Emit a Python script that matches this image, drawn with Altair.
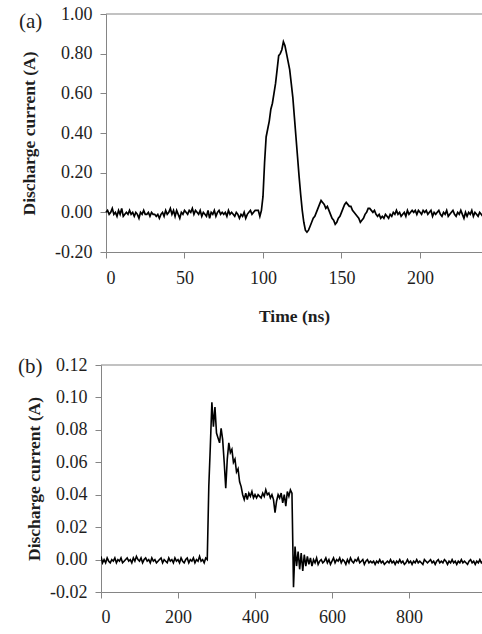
import altair as alt
import pandas as pd

# ---------------- data ----------------
# (a) discharge current, sampled every 1 ns from 0 ns
CURRENT_A = [
    0.00, 0.01, -0.01, 0.00, 0.02, -0.01, 0.00, -0.02, 0.01, -0.01,
    0.02, -0.02, -0.01, 0.00, -0.01, 0.01, -0.01, 0.00, -0.02, 0.00,
    -0.01, -0.03, 0.00, -0.01, 0.01, -0.01, -0.01, 0.00, -0.02, 0.00,
    -0.01, -0.01, -0.02, -0.01, -0.03, -0.01, 0.00, -0.02, 0.01, -0.01,
    0.00, 0.02, -0.01, 0.01, -0.02, 0.01, -0.01, -0.03, 0.00, -0.01,
    0.01, 0.00, -0.01, 0.01, 0.00, 0.02, -0.01, 0.01, 0.00, -0.01,
    0.01, -0.02, 0.00, -0.01, -0.02, 0.01, -0.03, 0.00, -0.01, 0.01,
    -0.02, 0.00, 0.01, -0.01, 0.00, -0.01, 0.00, -0.02, 0.01, -0.01,
    0.00, -0.01, -0.02, 0.00, -0.01, -0.03, -0.01, -0.02, 0.00, -0.03,
    -0.01, 0.00, 0.01, -0.01, 0.00, 0.01, 0.01, 0.01, -0.02, 0.01,
    0.08, 0.25, 0.38, 0.42, 0.46, 0.52, 0.55, 0.60, 0.65, 0.72,
    0.79, 0.80, 0.82, 0.86, 0.84, 0.80, 0.76, 0.72, 0.65, 0.58,
    0.48, 0.38, 0.28, 0.18, 0.09, 0.01, -0.05, -0.09, -0.10, -0.09,
    -0.07, -0.05, -0.03, -0.02, 0.00, 0.02, 0.04, 0.06, 0.05, 0.04,
    0.02, 0.03, 0.01, -0.01, -0.03, -0.04, -0.06, -0.05, -0.03, -0.02,
    0.00, 0.02, 0.04, 0.05, 0.04, 0.03, 0.03, 0.01, 0.00, -0.01,
    -0.02, -0.03, -0.05, -0.04, -0.03, -0.01, 0.00, 0.02, 0.02, 0.01,
    0.00, 0.01, -0.01, -0.02, -0.01, -0.03, -0.02, -0.03, -0.01, -0.02,
    -0.03, -0.01, -0.02, 0.00, -0.01, 0.01, -0.01, 0.00, -0.02, -0.01,
    0.00, -0.02, 0.01, -0.01, 0.00, 0.01, 0.00, 0.01, -0.01, 0.01,
    0.00, -0.01, 0.01, 0.00, 0.01, -0.01, 0.00, 0.01, -0.02, 0.00,
    -0.01, 0.00, 0.01, -0.01, -0.02, 0.00, -0.01, 0.01, -0.02, -0.01,
    0.00, 0.01, -0.01, -0.02, 0.00, -0.01, 0.01, -0.01, -0.03, 0.00,
    -0.02, 0.00, -0.01, 0.01, -0.02, 0.00, -0.01, -0.02, 0.00, -0.01,
    -0.02, 0.00, -0.01, -0.03, -0.01, 0.00, -0.02, -0.01, 0.00, -0.02,
    -0.01,
]
STEP_A_NS = 1

# (b) discharge current, sampled every 4 ns from 0 ns
CURRENT_B = [
    0.002, -0.002, 0.000, -0.002, 0.001, -0.001, -0.002, 0.000, -0.001, 0.001,
    -0.002, 0.000, -0.001, 0.001, -0.002, -0.001, 0.000, 0.001, -0.001, 0.000,
    -0.002, 0.001, -0.001, 0.002, 0.000, -0.001, 0.001, -0.002, 0.000, 0.001,
    -0.001, 0.000, -0.002, 0.001, -0.001, 0.000, -0.002, -0.001, 0.000, 0.001,
    -0.002, 0.000, -0.001, -0.002, 0.001, -0.001, 0.000, -0.002, 0.001, -0.001,
    0.000, -0.002, 0.001, -0.001, -0.002, 0.000, 0.001, -0.002, 0.000, -0.001,
    0.001, -0.002, 0.000, -0.001, 0.002, -0.001, 0.000, -0.002, 0.001,
    0.000, 0.045, 0.070, 0.097, 0.082, 0.094, 0.078, 0.075, 0.072, 0.081,
    0.074, 0.060, 0.044, 0.062, 0.072, 0.066, 0.068, 0.060, 0.062, 0.054,
    0.056, 0.048, 0.045, 0.040, 0.037, 0.041, 0.037, 0.041, 0.039, 0.042,
    0.038, 0.040, 0.038, 0.040, 0.039, 0.038, 0.041, 0.039, 0.043, 0.040,
    0.041, 0.038, 0.040, 0.037, 0.029, 0.036, 0.040, 0.038, 0.041, 0.035,
    0.040, 0.033, 0.042, 0.039, 0.043, 0.041,
    -0.017, 0.008, -0.004, 0.005, -0.006, 0.004, -0.007, 0.003, -0.004, 0.002,
    -0.003,
    0.001, -0.004, 0.000, -0.002, 0.001, -0.003, -0.001, 0.000, -0.002, -0.001,
    0.001, -0.002, 0.000, -0.003, -0.001, 0.001, -0.002, 0.000, -0.001, 0.001,
    -0.002, 0.000, -0.001, -0.003, 0.000, -0.002, 0.001, -0.001, -0.002, 0.000,
    -0.001, 0.001, -0.002, -0.001, 0.000, -0.003, -0.001, 0.000, -0.002, -0.001,
    -0.002, -0.001, -0.003, -0.001, -0.002, 0.000, -0.002, -0.001, -0.003, -0.002,
    -0.001, -0.002, 0.000, -0.002, -0.001, -0.003, -0.001, -0.002, 0.000, -0.002,
    -0.001, -0.003, -0.002, 0.000, -0.002, -0.001, -0.003, -0.001, -0.002, 0.000,
    -0.002, -0.001, -0.002, -0.003, 0.000, -0.001, -0.002, -0.001, 0.000, -0.002,
    -0.001, -0.003, -0.001, 0.000, -0.002, -0.001, -0.002, 0.000, -0.001, -0.003,
    -0.001, -0.002, 0.000, -0.002, -0.001, -0.003, -0.001, -0.002, 0.000, -0.002,
    -0.001, -0.002, -0.003, -0.001, 0.000, -0.002, -0.001, -0.003, -0.001, -0.002,
    0.000, -0.002, -0.001, -0.002, -0.001,
]
STEP_B_NS = 4

# visible x ranges (the reference figure is cropped on the right)
X_DOMAIN_A = [0, 239.5]
X_DOMAIN_B = [0, 989.6]
Y_DOMAIN_A = [-0.2, 1.0]
Y_DOMAIN_B = [-0.02, 0.12]
X_TICKS_A = [0, 50, 100, 150, 200]
Y_TICKS_A = [-0.2, 0.0, 0.2, 0.4, 0.6, 0.8, 1.0]
X_TICKS_B = [0, 200, 400, 600, 800]
Y_TICKS_B = [-0.02, 0.0, 0.02, 0.04, 0.06, 0.08, 0.10, 0.12]
PANEL_LABELS = ["(a)", "(b)"]

df_a = pd.DataFrame({"t": [i * STEP_A_NS for i in range(len(CURRENT_A))], "i": CURRENT_A})
df_b = pd.DataFrame({"t": [i * STEP_B_NS for i in range(len(CURRENT_B))], "i": CURRENT_B})

SERIF = "Liberation Serif"
GRAY = "#858585"
INK = "#1e1e1e"
LBL = "replace(format(datum.value, '.2f'), '\u2212', '-')"

# ---- layout (pixels inside one shared plotting group) ----
W, H = 381, 578            # group spans both panels
A_LEFT, A_BOTTOM = 5, 238  # panel (a): x from 5..W, y from 0..238
B_TOP = 351                # panel (b): x from 0..W, y from 351..H
one = pd.DataFrame({"k": [0]})

line_a = alt.Chart(df_a).mark_line(color="black", strokeWidth=1.7, clip=True).encode(
    x=alt.X("t:Q", scale=alt.Scale(domain=X_DOMAIN_A, range=[A_LEFT, W], nice=False),
            axis=alt.Axis(values=X_TICKS_A, format="d", title="Time (ns)", orient="bottom",
                          offset=-(H - A_BOTTOM), labelPadding=11, titlePadding=20)),
    y=alt.Y("i:Q", scale=alt.Scale(domain=Y_DOMAIN_A, range=[A_BOTTOM, 0], nice=False),
            axis=alt.Axis(values=Y_TICKS_A, labelExpr=LBL, title="Discharge current (A)",
                          orient="left", offset=-A_LEFT, titlePadding=16)),
)

line_b = alt.Chart(df_b).mark_line(color="black", strokeWidth=1.6, clip=True).encode(
    x=alt.X("t:Q", scale=alt.Scale(domain=X_DOMAIN_B, range=[0, W], nice=False),
            axis=alt.Axis(values=X_TICKS_B, format="d", title="", orient="bottom",
                          labelPadding=10)),
    y=alt.Y("i:Q", scale=alt.Scale(domain=Y_DOMAIN_B, range=[H, B_TOP], nice=False),
            axis=alt.Axis(values=Y_TICKS_B, labelExpr=LBL, title="Discharge current (A)",
                          orient="left", titlePadding=6)),
)

frame_a = alt.Chart(one).mark_rule(color=GRAY, strokeWidth=1).encode(
    x=alt.value(A_LEFT), x2=alt.value(W), y=alt.value(0))
frame_b = alt.Chart(one).mark_rule(color=GRAY, strokeWidth=1).encode(
    x=alt.value(0), x2=alt.value(W), y=alt.value(B_TOP))


def panel_label(text, xpx, ypx):
    return alt.Chart(pd.DataFrame({"p": [text]})).mark_text(
        align="left", baseline="middle", font=SERIF, fontSize=21, color=INK
    ).encode(x=alt.value(xpx), y=alt.value(ypx), text="p:N")


chart = (
    alt.layer(
        frame_a, frame_b, line_a, line_b,
        panel_label(PANEL_LABELS[0], -82, 8),
        panel_label(PANEL_LABELS[1], -83, B_TOP + 2),
    )
    .resolve_scale(x="independent", y="independent")
    .resolve_axis(x="independent", y="independent")
    .properties(
        width=W, height=H,
        autosize=alt.AutoSizeParams(type="none"),
        padding={"left": 101, "top": 14, "right": 0, "bottom": 42},
    )
    .configure_view(strokeWidth=0)
    .configure_axis(
        labelFont=SERIF, labelFontSize=18, labelColor=INK, labelPadding=8,
        titleFont=SERIF, titleFontSize=17.5, titleFontWeight="bold", titleColor=INK,
        domainColor=GRAY, tickColor=GRAY, tickSize=6, grid=False,
    )
)

chart.save("out.html", embed_options={"renderer": "svg", "actions": False})
